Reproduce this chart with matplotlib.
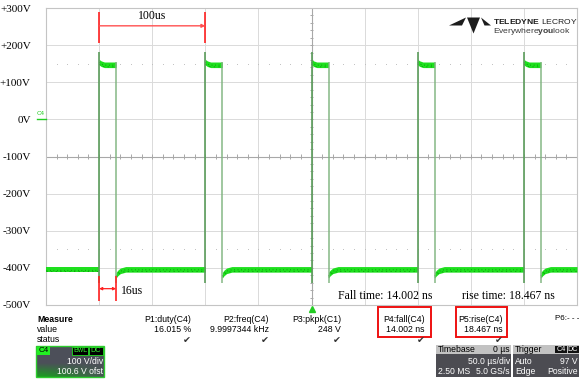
import numpy as np
import matplotlib
matplotlib.use("Agg")
import matplotlib.pyplot as plt
from matplotlib.patches import Rectangle, Polygon

plt.rcParams["mathtext.fontset"] = "custom"
plt.rcParams["mathtext.rm"] = "Liberation Sans"
plt.rcParams["mathtext.bf"] = "Liberation Sans:bold"

# ---- scope settings -------------------------------------------------------
t_span_us = 500          # 10 div x 50 us/div
time_div_us = 50
v_top, v_bottom = 300, -500
volt_div = 100

# ---- C4 pulse train ------------------------------------------------------
rise_times_us = [50, 150, 250, 350, 450]
pulse_width_us = 16.015
high_level_v = 147
low_level_v = -404
overshoot_v = 182
undershoot_v = -440
noise_half_v = 7.5
# settling of the top after the rising edge
top_settle_us = [0.0, 2.0, 5.0]
top_settle_v = [7, 3, 0]
# recovery of the bottom after the falling edge
low_recover_us = [0.0, 1.5, 4.0, 9.0]
low_recover_v = [-16, -10, -4, 0]

# ---- measurement panel ----------------------------------------------------
meas_headers = ["P1:duty(C4)", "P2:freq(C4)", "P3:pkpk(C1)", "P4:fall(C4)", "P5:rise(C4)"]
meas_values = ["16.015 %", "9.9997344 kHz", "248 V", "14.002 ns", "18.467 ns"]
fall_text = "Fall time: 14.002 ns"
rise_text = "rise time: 18.467 ns"
period_label = "100us"
width_label = "16us"

SERIF = ["Liberation Serif", "DejaVu Serif"]
SANS = ["Liberation Sans", "DejaVu Sans"]

W, H = 579, 381
fig = plt.figure(figsize=(W / 100, H / 100), dpi=100)

# plot area in pixels
px_l, px_r, px_t, px_b = 46, 577, 8, 305
ax = fig.add_axes([px_l / W, 1 - px_b / H, (px_r - px_l) / W, (px_b - px_t) / H])
ax.set_zorder(1)
ax.set_xlim(0, t_span_us)
ax.set_ylim(v_bottom, v_top)

# grid
ax.set_xticks(np.arange(0, t_span_us + 1, time_div_us))
ax.set_xticklabels([])
yt = np.arange(v_bottom, v_top + 1, volt_div)
ax.set_yticks(yt)
ax.set_yticklabels(["0V" if v == 0 else f"{v:+d}V" for v in yt],
                   fontfamily=SERIF, fontsize=8)
ax.tick_params(length=0, pad=11)
ax.grid(True, color="#dadada", lw=0.7)
ax.set_axisbelow(True)
for s in ax.spines.values():
    s.set_color("#c4c4c4")
    s.set_linewidth(0.8)

# centre cross with minor ticks
vc = (v_top + v_bottom) / 2
tc = t_span_us / 2
ax.axhline(vc, color="#a8a8a8", lw=0.8, zorder=1)
ax.axvline(tc, color="#a8a8a8", lw=0.8, zorder=1)
minor_t = np.arange(0, t_span_us + 1, time_div_us / 5)
ax.vlines(minor_t, vc - 7, vc + 7, color="#a8a8a8", lw=0.7, zorder=1)
minor_v = np.arange(v_bottom, v_top + 1, volt_div / 5)
ax.hlines(minor_v, tc - 1.6, tc + 1.6, color="#a8a8a8", lw=0.7, zorder=1)

# dotted reference rows
for lvl in (150, -350):
    ax.plot(minor_t, np.full_like(minor_t, lvl, dtype=float), ls="none",
            marker="s", ms=0.6, mew=0, color="#bdbdbd", zorder=1)

# ---- trace ----------------------------------------------------------------
band_col = "#1ee01e"
speck_col = "#0c9c0c"
edge_col = "#7fb47f"


def band(t0, t1, base, shift_t, shift_v):
    tt = np.concatenate([t0 + np.array(shift_t), [t1]])
    tt = np.clip(tt, t0, t1)
    vv = base + np.concatenate([shift_v, [0]])
    ax.fill_between(tt, vv - noise_half_v, vv + noise_half_v, color=band_col,
                    lw=0, zorder=3)
    ax.plot(tt, vv - 1, color=speck_col, lw=0.9, dashes=(0.6, 2.2), zorder=4)
    ax.plot(tt, vv - noise_half_v + 2, color=speck_col, lw=0.6,
            dashes=(1.5, 4.0), zorder=4)


falls = [r + pulse_width_us for r in rise_times_us]
# first low segment before the first edge
band(0, rise_times_us[0], low_level_v, [0], [0])
for i, (r, f) in enumerate(zip(rise_times_us, falls)):
    band(r, f, high_level_v, top_settle_us, top_settle_v)
    nxt = rise_times_us[i + 1] if i + 1 < len(rise_times_us) else t_span_us
    band(f, nxt, low_level_v, low_recover_us, low_recover_v)
ax.vlines(rise_times_us, undershoot_v, overshoot_v, color="#5a9c5a",
          lw=1.4, alpha=0.85, zorder=5)
ax.vlines(falls, undershoot_v, high_level_v + noise_half_v, color=edge_col,
          lw=1.4, alpha=0.75, zorder=5)

# ---- cursors / annotations ------------------------------------------------
red = "#ff2020"
p0, p1 = rise_times_us[0], rise_times_us[1]
ax.vlines([p0, p1], 206, 290, color=red, lw=1.2, zorder=6, clip_on=False)
ax.annotate("", xy=(p0, 252), xytext=(p1, 252),
            arrowprops=dict(arrowstyle="<|-", color="#ff5050", lw=1.0,
                            mutation_scale=5, shrinkA=0, shrinkB=0), zorder=6)
ax.text((p0 + p1) / 2, 278, period_label, ha="center", va="center",
        fontfamily=SERIF, fontsize=8.5, zorder=6)

f0 = falls[0]
ax.vlines([p0, f0], -490, -421, color=red, lw=1.2, zorder=6, clip_on=False)
ax.annotate("", xy=(p0, -456), xytext=(f0, -456),
            arrowprops=dict(arrowstyle="<|-|>", color=red, lw=0.9,
                            mutation_scale=4, shrinkA=0, shrinkB=0), zorder=6)
ax.text(f0 + 5, -461, width_label, ha="left", va="center",
        fontfamily=SERIF, fontsize=8.5, zorder=6)

ax.text(275, -477, fall_text, ha="left", va="center", fontfamily=SERIF,
        fontsize=8.5, zorder=6)
ax.text(391.5, -477, rise_text, ha="left", va="center", fontfamily=SERIF,
        fontsize=8.5, zorder=6)

# ---- overlay in pixel coordinates ----------------------------------------
ov = fig.add_axes([0, 0, 1, 1])
ov.set_zorder(2)
ov.set_xlim(0, W)
ov.set_ylim(H, 0)
ov.axis("off")

# channel marker at 0 V
ov.text(37, 113.5, "C4", fontsize=4.5, color="#22cc22", fontfamily=SANS,
        va="center", ha="left")
ov.plot([37, 46], [118.5, 118.5], color="#22cc22", lw=1)

# trigger position marker
ov.plot([312], [308.5], marker="^", ms=4.5, color="#22cc22", mec="#22cc22")

# logo
logo_col = "#1c1c1c"
ov.add_patch(Polygon([(449, 25.5), (466, 17.5), (462, 25.5)], closed=True,
                     color=logo_col, lw=0))
ov.add_patch(Polygon([(467, 17.5), (480, 17.5), (473.5, 33.5)], closed=True,
                     color=logo_col, lw=0))
ov.add_patch(Polygon([(481, 17.5), (491, 25.5), (484.5, 25.5)], closed=True,
                     color=logo_col, lw=0))
ov.text(493, 22, r"$\mathbf{TELEDYNE}\ \mathrm{LECROY}$", fontsize=6.1,
        color=logo_col, va="center", ha="left")
ov.text(493, 31.5, r"$\mathrm{Everywhere}\mathbf{you}\mathrm{look}$",
        fontsize=6.1, color="#3a3a3a", va="center", ha="left")

# measurement table
fs = 6.3
ov.text(37, 319, "Measure", fontsize=fs, fontweight="bold", fontfamily=SANS,
        va="center", ha="left")
ov.text(37, 329.5, "value", fontsize=fs, fontfamily=SANS, va="center")
ov.text(37, 340, "status", fontsize=fs, fontfamily=SANS, va="center")
col_right = [191, 269, 341, 425, 503]
for xr, hdr, val in zip(col_right, meas_headers, meas_values):
    ov.text(xr, 319, hdr, fontsize=fs, fontfamily=SANS, va="center", ha="right")
    ov.text(xr, 329.5, val, fontsize=fs, fontfamily=SANS, va="center", ha="right")
    ov.text(xr - 4, 340, "\u2714", fontsize=6.8, fontfamily="DejaVu Sans",
            va="center", ha="center", color="#333333")
ov.text(555, 319, "P6:- - -", fontsize=5.8, fontfamily=SANS, va="center",
        ha="left")

# highlight boxes for fall / rise
for x0, x1 in ((378, 431), (456, 507)):
    ov.add_patch(Rectangle((x0, 307), x1 - x0, 30, fill=False, ec="#ee1111",
                           lw=1.4))

# C4 channel descriptor: slate body fading to green at the bottom
gy = np.linspace(0, 1, 64)[:, None]
gx = np.linspace(0, 1, 64)[None, :]
glow = np.clip((gy - 0.55) / 0.45, 0, 1) * np.clip(1.1 - gx, 0, 1)
c_top = np.array([0.30, 0.31, 0.35])
c_bot = np.array([0.10, 0.62, 0.12])
img = c_top[None, None, :] * (1 - glow[..., None]) + c_bot[None, None, :] * glow[..., None]
ov.imshow(img, extent=(36, 104, 377, 346), aspect="auto", zorder=2,
          interpolation="bilinear")
ov.add_patch(Rectangle((36, 346), 68, 31, fill=False, ec="#2ecc2e", lw=1.0,
                       zorder=3))
ov.add_patch(Rectangle((37, 347), 13, 8, color="#22ee22", lw=0, zorder=3))
ov.text(43.5, 351, "C4", fontsize=5.8, fontfamily=SANS, ha="center",
        va="center", color="#000000", zorder=4)
for bx, bw, lab in ((72, 16, "BwL"), (89, 14, "DC")):
    ov.add_patch(Rectangle((bx, 347), bw, 8, fc="#000000", ec="#22dd22",
                           lw=0.6, zorder=3))
    ov.text(bx + bw / 2, 351, lab, fontsize=5.2, fontfamily=SANS, ha="center",
            va="center", color="#33ee33", zorder=4)
ov.text(103, 362, "100 V/div", fontsize=6.2, fontfamily=SANS, ha="right",
        va="center", color="white", zorder=4)
ov.text(103, 372, "100.6 V ofst", fontsize=6.2, fontfamily=SANS, ha="right",
        va="center", color="white", zorder=4)

# timebase descriptor
ov.add_patch(Rectangle((436, 345), 75, 8.5, color="#c2c2c2", lw=0, zorder=2))
ov.add_patch(Rectangle((436, 353.5), 75, 23.5, color="#4c4c52", lw=0, zorder=2))
ov.text(438, 349.3, "Timebase", fontsize=6.2, fontfamily=SANS, va="center",
        zorder=4)
ov.text(510, 349.3, "0 \u00b5s", fontsize=6.2, fontfamily=SANS, va="center",
        ha="right", zorder=4)
ov.text(510, 362, "50.0 \u00b5s/div", fontsize=6.2, fontfamily=SANS,
        va="center", ha="right", color="white", zorder=4)
ov.text(438, 372, "2.50 MS", fontsize=6.2, fontfamily=SANS, va="center",
        color="white", zorder=4)
ov.text(510, 372, "5.0 GS/s", fontsize=6.2, fontfamily=SANS, va="center",
        ha="right", color="white", zorder=4)

# trigger descriptor
ov.add_patch(Rectangle((513, 345), 70, 8.5, color="#c2c2c2", lw=0, zorder=2))
ov.add_patch(Rectangle((513, 353.5), 70, 23.5, color="#4c4c52", lw=0, zorder=2))
ov.text(515, 349.3, "Trigger", fontsize=6.2, fontfamily=SANS, va="center",
        zorder=4)
for bx, bw, lab in ((555, 12, "C4"), (567.5, 11, "DC")):
    ov.add_patch(Rectangle((bx, 346), bw, 7, color="#111111", lw=0, zorder=3))
    ov.text(bx + bw / 2, 349.5, lab, fontsize=5.2, fontfamily=SANS,
            ha="center", va="center", color="white", zorder=4)
ov.text(515, 362, "Auto", fontsize=6.2, fontfamily=SANS, va="center",
        color="white", zorder=4)
ov.text(578, 362, "97 V", fontsize=6.2, fontfamily=SANS, va="center",
        ha="right", color="white", zorder=4)
ov.text(515, 372, "Edge", fontsize=6.2, fontfamily=SANS, va="center",
        color="white", zorder=4)
ov.text(578, 372, "Positive", fontsize=6.2, fontfamily=SANS, va="center",
        ha="right", color="white", zorder=4)

fig.savefig("out.png", dpi=100)
